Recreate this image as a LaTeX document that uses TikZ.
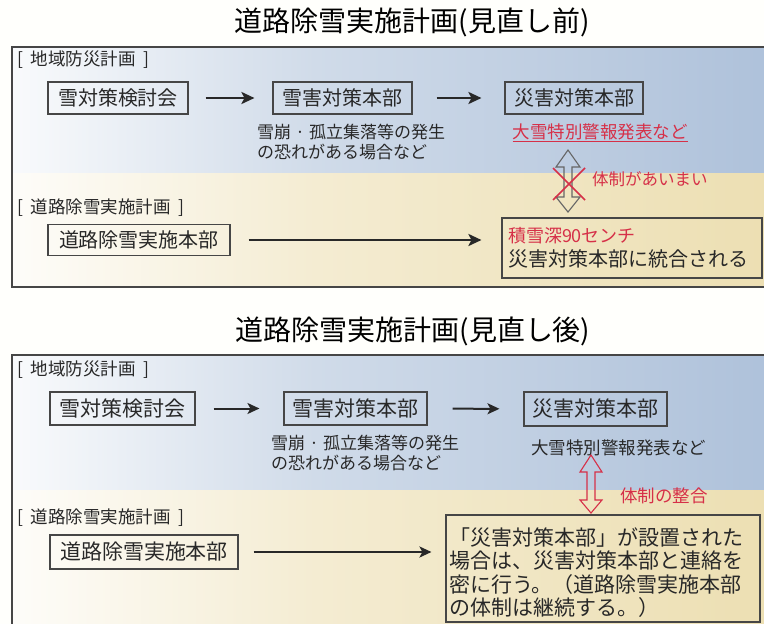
\documentclass[tikz,border=0pt]{standalone}
\usepackage{fontspec}
\setmainfont{Noto Sans CJK JP}
\usetikzlibrary{arrows.meta}
\definecolor{bl}{RGB}{146,172,206}
\definecolor{yl}{RGB}{230,212,152}
\definecolor{rd}{RGB}{214,48,72}
\definecolor{bd}{RGB}{70,70,70}
\definecolor{tx}{RGB}{40,40,40}
\definecolor{blmid}{RGB}{208,219,233}
\definecolor{ylmid}{RGB}{244,236,210}
\pgfdeclarehorizontalshading{bshade}{100bp}{color(0bp)=(white); color(22bp)=(white); color(45bp)=(blmid); color(100bp)=(bl)}
\pgfdeclarehorizontalshading{yshade}{100bp}{color(0bp)=(white); color(22bp)=(white); color(45bp)=(ylmid); color(100bp)=(yl)}
\newcommand{\mdot}{\hspace{0.25em}·\hspace{0.25em}}
\newcommand{\lsp}{\hspace{0.45em}}
\begin{document}
\begin{tikzpicture}[x=1pt,y=-1pt,
  box/.style={draw=bd,line width=1.1pt,inner sep=0pt,text=tx,font=\fontsize{20}{22}\selectfont},
  boxb/.style={box,font=\fontsize{21}{23}\selectfont},
  arr/.style={-{Stealth[length=13pt,width=12pt,inset=3pt]},line width=2.5pt,draw=tx},
  arrb/.style={-{Stealth[length=12pt,width=11pt,inset=3pt]},line width=2pt,draw=tx},
  lab/.style={anchor=west,inner sep=0pt,text=tx,font=\fontsize{17.5}{18}\selectfont},
  sub/.style={anchor=west,inner sep=0pt,text=tx,align=left,font=\fontsize{17}{20}\selectfont},
  title/.style={inner sep=0pt,text=black,font=\fontsize{28}{30}\selectfont},
  panel/.style={draw=bd,line width=1.3pt},
  hollow/.style={line width=1.1pt,line join=miter}
]
\useasboundingbox (0,0) rectangle (764,624);
\fill[white!99!yellow] (0,0) rectangle (764,624);

% ---------- top ----------
\node[title] (t1) at (412,22) {道路除雪実施計画(見直し前)};
\shade[shading=bshade] (12,47) rectangle (770,173);
\shade[shading=yshade] (12,173) rectangle (770,287);
\draw[panel] (770,47) -- (12,47) -- (12,287) -- (770,287);

\node[lab] (l1) at (17,60) {[\lsp 地域防災計画\lsp ]};
\node[box,minimum width=140,minimum height=32] (b1) at (118,98) {雪対策検討会};
\node[box,minimum width=139,minimum height=32] (b2) at (342.5,98) {雪害対策本部};
\node[box,minimum width=138,minimum height=32] (b3) at (574,98) {災害対策本部};
\node[sub] (s1) at (257,142) {雪崩\mdot 孤立集落等の発生\\の恐れがある場合など};
\node[inner sep=0pt,text=rd,font=\fontsize{17.5}{20}\selectfont] (r1) at (600,133) {\underline{大雪特別警報発表など}};
\draw[arr,shorten <=17pt,shorten >=18pt] (b1) -- (b2);
\draw[arr,shorten <=24pt,shorten >=23pt] (b2) -- (b3);

\draw[hollow,draw=gray!80!black] (568,150) -- (580,167) -- (572,167) -- (572,197) -- (580,197) -- (568,212) -- (556,197) -- (564,197) -- (564,167) -- (556,167) -- cycle;
\draw[rd,line width=1.6pt] (553,168) -- (585,200);
\draw[rd,line width=1.6pt] (585,168) -- (553,200);
\node[anchor=west,inner sep=0pt,text=rd,font=\fontsize{16.5}{18}\selectfont] (r2) at (592,179) {体制があいまい};

\node[lab] (l2) at (17,208) {[\lsp 道路除雪実施計画\lsp ]};
\node[box,minimum width=182,minimum height=31] (b4) at (139,240) {道路除雪実施本部};
\node[box,minimum width=260,minimum height=60,align=left,text width=248,inner xsep=6pt,font=\fontsize{20}{24}\selectfont] (b5) at (632,248) {{\color{rd}\fontsize{18}{24}\selectfont 積雪深90センチ}\\災害対策本部に統合される};
\draw[arr,shorten <=18pt,shorten >=20pt] (b4.east) -- (b4.east -| b5.west);

% ---------- bottom ----------
\node[title] (t2) at (413,331) {道路除雪実施計画(見直し後)};
\shade[shading=bshade] (12,355) rectangle (770,490);
\shade[shading=yshade] (12,490) rectangle (770,630);
\draw[panel] (770,355) -- (12,355) -- (12,630);

\node[lab] (l3) at (17,370) {[\lsp 地域防災計画\lsp ]};
\node[boxb,minimum width=145,minimum height=33] (c1) at (122.5,408.5) {雪対策検討会};
\node[boxb,minimum width=143,minimum height=33] (c2) at (355.5,408.5) {雪害対策本部};
\node[boxb,minimum width=143,minimum height=34] (c3) at (595.5,409) {災害対策本部};
\node[sub] (s2) at (271,453) {雪崩\mdot 孤立集落等の発生\\の恐れがある場合など};
\node[inner sep=0pt,text=tx,font=\fontsize{17.5}{20}\selectfont] (n1) at (618.5,448) {大雪特別警報発表など};
\draw[arrb,shorten <=18pt,shorten >=24pt] (c1) -- (c2);
\draw[arrb,shorten <=25pt,shorten >=24pt] (c2) -- (c3);

\draw[hollow,draw=rd] (591,455) -- (602,472) -- (595,472) -- (595,500) -- (602,500) -- (591,513) -- (580,500) -- (587,500) -- (587,472) -- (580,472) -- cycle;
\node[anchor=west,inner sep=0pt,text=rd,font=\fontsize{17.5}{18}\selectfont] (r3) at (620,496) {体制の整合};

\node[lab] (l4) at (17,518) {[\lsp 道路除雪実施計画\lsp ]};
\node[boxb,minimum width=188,minimum height=34] (c4) at (144,552) {道路除雪実施本部};
\node[boxb,minimum width=314,minimum height=107,align=left,text width=308,inner xsep=3pt,font=\fontsize{21}{23.3}\selectfont] (c5) at (603,568.5) {\rule{0pt}{26pt}「災害対策本部」が設置された\\場合は、災害対策本部と連絡を\\密に行う。（道路除雪実施本部\\の体制は継続する。）};
\draw[arrb,line width=2.5pt,shorten <=15pt,shorten >=14pt] (c4.east) -- (c4.east -| c5.west);
\end{tikzpicture}
\end{document}
